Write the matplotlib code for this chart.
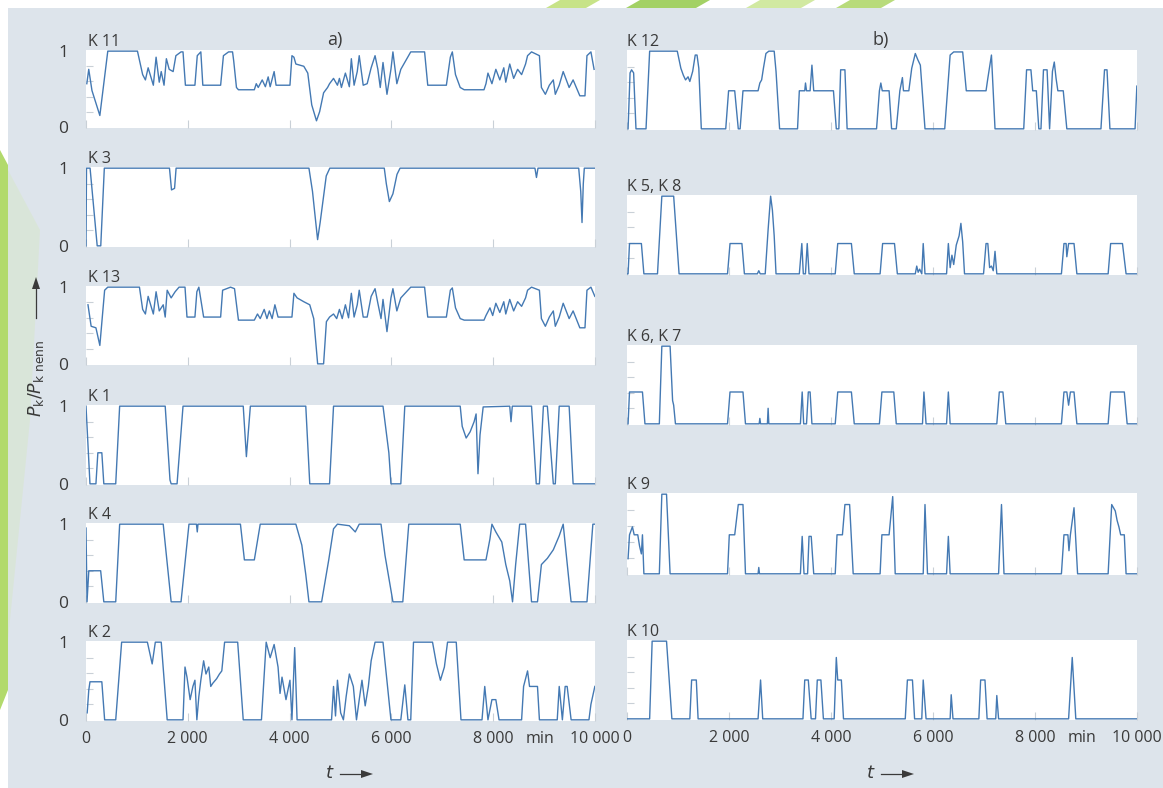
"""
Relative load P_k/P_k nenn of the compressors K1..K13 over 10 000 min.
Panel a) base-load machines, panel b) peak-load machines.
"""
import matplotlib
matplotlib.use("Agg")
import matplotlib.pyplot as plt
from matplotlib.patches import Polygon, Rectangle

# ── Data (t in min, value = P_k / P_k nenn) ──
K11 = [(16, .57), (54, .76), (117, .48), (272, .15), (428, 1), (1011, 1), (1113, .69), (1167, .62),
       (1221, .78), (1323, .55), (1377, .92), (1439, .59), (1478, .73), (1533, .55), (1579, .90),
       (1634, .76), (1712, .73), (1766, .94), (1867, .99), (1906, .99), (1953, .55), (2140, .55),
       (2186, .94), (2256, .99), (2295, .55), (2645, .55), (2700, .94), (2801, .99), (2879, .99),
       (2902, .87), (2956, .52), (2995, .49), (3307, .49), (3345, .57), (3384, .52), (3462, .62),
       (3524, .53), (3579, .66), (3618, .53), (3696, .73), (3734, .55), (4007, .55), (4046, .94),
       (4085, .92), (4123, .83), (4279, .80), (4357, .71), (4435, .29), (4528, .08), (4590, .20),
       (4668, .45), (4746, .52), (4785, .57), (4863, .64), (4940, .55), (4979, .64), (5018, .52),
       (5096, .71), (5174, .53), (5213, .90), (5267, .55), (5329, .73), (5368, .94), (5446, .55),
       (5524, .57), (5602, .78), (5679, .94), (5734, .76), (5781, .52), (5835, .85), (5913, .43),
       (5991, .76), (6030, .99), (6107, .57), (6185, .76), (6380, .99), (6652, .99), (6714, .55),
       (7080, .55), (7158, .92), (7197, .99), (7259, .69), (7352, .52), (7430, .49), (7819, .49),
       (7858, .57), (7897, .71), (7975, .57), (8052, .76), (8130, .62), (8208, .78), (8247, .59),
       (8325, .83), (8402, .64), (8480, .76), (8558, .69), (8636, .83), (8675, .94), (8753, .99),
       (8908, .94), (8947, .52), (9025, .43), (9103, .55), (9181, .62), (9220, .43), (9297, .55),
       (9375, .73), (9492, .52), (9570, .62), (9702, .41), (9803, .41), (9842, .94), (9920, .99),
       (9982, .76)]

K3 = [(0, 0), (10, 1), (80, 1), (220, 0), (290, 0), (360, 1), (1640, 1), (1680, .72), (1740, .74),
      (1770, 1), (4380, 1), (4450, .70), (4490, .45), (4550, .08), (4600, .30), (4650, .55),
      (4720, .90), (4790, 1), (5860, 1), (5900, .80), (5960, .57), (6030, .67), (6110, .92),
      (6170, 1), (8820, 1), (8850, .88), (8880, 1), (9680, 1), (9720, .70), (9745, .30),
      (9770, .80), (9790, 1), (10000, 1)]

K13 = [(39, .77), (101, .49), (195, .47), (272, .24), (366, .96), (428, 1), (1050, 1), (1113, .71),
       (1167, .65), (1221, .88), (1323, .65), (1377, .94), (1439, .69), (1517, .77), (1556, .61),
       (1595, .96), (1673, .86), (1751, .94), (1828, 1), (1945, 1), (1984, .61), (2140, .61),
       (2178, .94), (2217, 1), (2311, .61), (2645, .61), (2684, .96), (2840, 1), (2918, .98),
       (2995, .57), (3307, .57), (3369, .65), (3423, .59), (3501, .71), (3555, .59), (3602, .69),
       (3657, .59), (3711, .77), (3773, .61), (4046, .61), (4085, .92), (4147, .86), (4279, .81),
       (4396, .77), (4474, .59), (4551, 0), (4668, 0), (4723, .55), (4785, .61), (4863, .65),
       (4925, .59), (4979, .71), (5034, .59), (5096, .77), (5158, .60), (5213, .92), (5267, .61),
       (5329, .77), (5368, .96), (5446, .61), (5524, .61), (5602, .88), (5679, .98), (5734, .79),
       (5796, .59), (5835, .84), (5913, .42), (5991, .86), (6030, .98), (6107, .69), (6185, .86),
       (6380, 1), (6652, 1), (6714, .61), (7080, .61), (7158, .96), (7197, .99), (7259, .73),
       (7352, .59), (7430, .57), (7819, .57), (7858, .63), (7936, .73), (7990, .63), (8052, .79),
       (8130, .67), (8208, .81), (8247, .65), (8325, .84), (8402, .69), (8480, .81), (8558, .75),
       (8636, .86), (8675, .96), (8753, 1), (8908, .96), (8947, .59), (9025, .49), (9103, .61),
       (9181, .69), (9220, .49), (9297, .61), (9375, .79), (9492, .59), (9570, .69), (9702, .47),
       (9803, .47), (9842, .96), (9920, 1), (9997, .88)]

K1 = [(0, 1), (78, 0), (195, 0), (233, .40), (311, .40), (350, 0), (584, 0), (661, 1), (1556, 1),
      (1650, .05), (1673, 0), (1789, 0), (1906, 1), (3089, 1), (3151, .35), (3229, 1), (4318, 1),
      (4396, 0), (4785, 0), (4863, 1), (5835, 1), (5950, .40), (5991, 0), (6185, 0), (6263, 1),
      (7352, 1), (7391, .74), (7469, .59), (7547, .67), (7625, .80), (7664, .90), (7701, .13),
      (7741, .63), (7803, .99), (8325, 1), (8350, .80), (8375, 1), (8753, 1), (8846, 0), (8908, 0),
      (8986, 1), (9064, 1), (9181, 0), (9220, 0), (9297, 1), (9492, 1), (9570, 0), (10000, 0)]

K4 = [(0, .95), (20, 0), (55, .40), (288, .40), (350, 0), (584, 0), (661, 1), (1517, 1), (1579, .60),
      (1673, 0), (1867, 0), (2023, 1), (2170, 1), (2186, .90), (2200, 1), (3034, 1), (3112, .54),
      (3307, .54), (3423, 1), (4123, 1), (4240, .73), (4318, .35), (4380, 0), (4629, 0),
      (4769, .54), (4863, .94), (4940, 1), (5174, .98), (5290, .90), (5368, 1), (5796, 1),
      (5874, .60), (6030, 0), (6224, 0), (6341, 1), (7352, 1), (7430, .54), (7858, .54),
      (7936, .81), (7975, 1), (8052, .90), (8169, .77), (8247, .48), (8325, .27), (8380, 0),
      (8441, .48), (8520, 1), (8636, 1), (8753, 0), (8870, 0), (8947, .48), (9064, .56),
      (9181, .67), (9297, .85), (9375, 1), (9530, 0), (9842, 0), (9958, 1), (10000, 1)]

K2 = [(23, .09), (54, .38), (78, .49), (311, .49), (366, 0), (584, 0), (700, 1), (1206, 1),
      (1300, .72), (1362, 1), (1478, 1), (1595, 0), (1906, 0), (1945, .68), (1984, .55),
      (2046, .26), (2100, .43), (2140, .51), (2178, 0), (2217, .30), (2256, .51), (2311, .76),
      (2357, .59), (2412, .68), (2451, .43), (2490, .47), (2567, .53), (2622, .59), (2668, .63),
      (2723, 1), (2980, 1), (3089, 0), (3447, 0), (3540, 1), (3618, .80), (3696, .97), (3773, .68),
      (3812, .34), (3851, .55), (3929, .26), (4007, .51), (4046, 0), (4100, .93), (4147, 0),
      (4824, 0), (4863, .43), (4902, .05), (4940, .51), (5003, .09), (5057, 0), (5111, .30),
      (5174, .59), (5252, .43), (5314, 0), (5368, .26), (5422, .51), (5485, .18), (5547, .43),
      (5602, .76), (5679, 1), (5835, 1), (5991, 0), (6185, 0), (6263, .45), (6325, 0), (6380, 0),
      (6434, 1), (6808, 1), (6885, .72), (6963, .51), (7041, .68), (7103, 1), (7274, 1),
      (7367, 0), (7780, 0), (7834, .43), (7897, 0), (7975, .26), (8052, .26), (8115, 0),
      (8558, 0), (8597, .43), (8675, .63), (8714, .43), (8870, .43), (8908, 0), (9258, 0),
      (9297, .43), (9359, 0), (9414, .43), (9453, .43), (9531, 0), (9881, 0), (9920, .20),
      (9997, .43)]

K12 = [(21, 0), (60, .72), (90, .76), (130, .72), (176, 0), (373, 0), (444, 1), (986, 1),
       (1056, .78), (1105, .69), (1148, .63), (1197, .67), (1232, .61), (1288, .74), (1338, .95),
       (1373, .95), (1408, .78), (1457, 0), (1936, 0), (1992, .49), (2112, .49), (2182, 0),
       (2218, 0), (2274, .49), (2570, .49), (2605, .59), (2640, .63), (2675, .78), (2724, .97),
       (2781, 1), (2886, 1), (2922, .74), (2992, 0), (3344, 0), (3379, .49), (3485, .49),
       (3500, .59), (3520, .49), (3590, .49), (3626, .82), (3661, .49), (4048, .49), (4104, 0),
       (4154, 0), (4189, .76), (4273, .76), (4316, 0), (4893, 0), (4949, .49), (4977, .59),
       (5005, .49), (5139, .49), (5188, 0), (5280, 0), (5350, .49), (5400, .66), (5421, .49),
       (5526, .49), (5583, .78), (5653, .97), (5702, .89), (5752, .82), (5843, 0), (6230, 0),
       (6336, .95), (6406, .99), (6582, .99), (6653, .49), (7040, .49), (7075, .65), (7146, .95),
       (7216, 0), (7779, 0), (7835, .76), (7920, .76), (7955, .49), (8026, .49), (8075, 0),
       (8117, 0), (8166, .76), (8237, .76), (8286, 0), (8342, .74), (8378, .86), (8413, .65),
       (8448, .49), (8554, .49), (8624, 0), (9293, 0), (9363, .76), (9412, .76), (9469, 0),
       (9962, 0), (9997, .55)]

K5_K8 = [(0, 0), (21, 0), (49, .39), (282, .39), (331, 0), (598, 0), (683, 1), (915, 1), (1021, 0),
         (1971, 0), (2020, .39), (2253, .39), (2302, 0), (2556, 0), (2584, .04), (2612, 0),
         (2710, 0), (2767, .57), (2816, 1), (2851, .82), (2886, .49), (2922, 0), (3379, 0),
         (3428, .39), (3457, 0), (3499, 0), (3534, .39), (3569, 0), (4083, 0), (4132, .39),
         (4400, .39), (4456, 0), (4963, 0), (5012, .39), (5245, .39), (5301, 0), (5653, 0),
         (5681, .10), (5709, .02), (5738, .06), (5780, 0), (5808, .39), (5843, 0), (6266, 0),
         (6301, .39), (6336, .08), (6371, .24), (6406, .12), (6456, .37), (6512, .49),
         (6547, .65), (6582, .41), (6618, 0), (6991, 0), (7040, .39), (7075, .39), (7110, .08),
         (7146, .10), (7181, .04), (7216, .29), (7251, 0), (8518, 0), (8568, .39), (8610, .39),
         (8624, .22), (8659, .39), (8765, .39), (8821, 0), (9434, 0), (9483, .39), (9715, .39),
         (9786, 0), (10000, 0)]

K6_K7 = [(21, 0), (49, .41), (303, .41), (352, 0), (634, 0), (683, 1), (845, 1), (894, .30),
         (915, .24), (950, 0), (1971, 0), (2020, .41), (2274, .41), (2323, 0), (2591, 0),
         (2605, .07), (2619, 0), (2753, 0), (2767, .20), (2781, 0), (3400, 0), (3435, .41),
         (3464, 0), (3520, 0), (3555, .41), (3590, .41), (3626, 0), (4083, 0), (4132, .41),
         (4400, .41), (4456, 0), (4949, 0), (4998, .41), (5231, .41), (5280, 0), (5794, 0),
         (5822, .41), (5864, 0), (6266, 0), (6301, .41), (6336, 0), (7251, 0), (7300, .41),
         (7371, .41), (7427, 0), (8518, 0), (8568, .41), (8624, .41), (8659, .24), (8694, .41),
         (8765, .41), (8821, 0), (9434, 0), (9483, .41), (9751, .41), (9807, 0), (10000, 0)]

K9 = [(21, .19), (49, .49), (106, .59), (141, .49), (211, .49), (246, .35), (282, .25), (303, .49),
      (331, 0), (634, 0), (683, 1), (775, 1), (845, 0), (1971, 0), (2006, .49), (2112, .49),
      (2182, .87), (2274, .87), (2323, 0), (2570, 0), (2584, .08), (2598, 0), (3400, 0),
      (3435, .47), (3471, 0), (3541, 0), (3569, .47), (3612, .47), (3661, 0), (4083, 0),
      (4118, .49), (4224, .49), (4273, .87), (4365, .87), (4435, 0), (4963, 0), (4998, .49),
      (5139, .49), (5210, .97), (5259, 0), (5808, 0), (5843, .87), (5892, 0), (6266, 0),
      (6301, .47), (6336, 0), (7286, 0), (7343, .87), (7392, 0), (8518, 0), (8568, .49),
      (8645, .49), (8666, .29), (8694, .49), (8765, .83), (8835, 0), (9434, 0), (9504, .87),
      (9574, .79), (9610, .67), (9645, .59), (9680, .49), (9751, .49), (9786, 0), (10000, 0)]

K10 = [(0, 0), (444, 0), (493, 1), (775, 1), (880, 0), (1232, 0), (1267, .50), (1359, .50),
       (1394, 0), (2570, 0), (2619, .50), (2661, 0), (3450, 0), (3485, .50), (3555, .50),
       (3611, 0), (3696, 0), (3731, .50), (3802, .50), (3851, 0), (4062, 0), (4104, .79),
       (4132, .50), (4203, .50), (4245, 0), (5456, 0), (5498, .50), (5597, .50), (5639, 0),
       (5780, 0), (5808, .50), (5864, 0), (6336, 0), (6357, .31), (6392, 0), (6899, 0),
       (6934, .50), (7019, .50), (7061, 0), (7230, 0), (7251, .30), (7286, 0), (8659, 0),
       (8730, .79), (8800, 0), (10000, 0)]

left_names = ["K 11", "K 3", "K 13", "K 1", "K 4", "K 2"]
left_series = [K11, K3, K13, K1, K4, K2]
right_names = ["K 12", "K 5, K 8", "K 6, K 7", "K 9", "K 10"]
right_series = [K12, K5_K8, K6_K7, K9, K10]

x_ticks = [0, 2000, 4000, 6000, 8000, 10000]
x_ticklabels = ["0", "2 000", "4 000", "6 000", "8 000", "10 000"]

# ── Layout in pixels of the 1163 x 788 scan ──
W, H = 1163, 788
left_x = (86, 595)
left_y = [(50, 128), (167, 247), (286, 365), (405, 485), (523, 603), (641, 721)]
right_x = (627, 1137)
right_y = [(50, 130), (195, 275), (345, 425), (493, 575), (640, 720)]

BG = "#dde4eb"
LINE = "#4479b3"
TXT = "#3a3a3a"
TICK = "#c9d0d7"

plt.rcParams["font.family"] = ["Open Sans", "DejaVu Sans"]


def fx(px):
    return px / W


def fy(py):
    return 1 - py / H


def make_axes(fig, xr, yr):
    ax = fig.add_axes([fx(xr[0]), fy(yr[1]), (xr[1] - xr[0]) / W, (yr[1] - yr[0]) / H])
    ax.set_facecolor("white")
    for s in ax.spines.values():
        s.set_visible(False)
    ax.set_xlim(0, 10000)
    ax.set_ylim(-0.015, 1.015)
    ax.set_xticks(x_ticks)
    ax.set_yticks([0.2, 0.4, 0.6, 0.8], minor=True)
    ax.tick_params(axis="both", which="both", direction="in", color=TICK,
                   length=6, width=0.8, labelcolor=TXT)
    ax.tick_params(axis="y", which="minor", length=5)
    ax.tick_params(axis="x", labelbottom=False, pad=7, labelsize=11.5)
    return ax


fig = plt.figure(figsize=(W / 100, H / 100), dpi=100, facecolor=BG)

# decorative background of the scanned page
fig.patches.append(Rectangle((0, fy(8)), 1, 1 - fy(8), transform=fig.transFigure,
                             facecolor="white", edgecolor="none", zorder=-3))
fig.patches.append(Rectangle((0, 0), fx(8), 1, transform=fig.transFigure,
                             facecolor="white", edgecolor="none", zorder=-3))
for x0, w, c in [(560, 40, "#b9dc6a"), (640, 70, "#8cc63f"), (760, 55, "#c6e48a"), (850, 45, "#a6d35a")]:
    fig.patches.append(Polygon([(fx(x0), fy(0)), (fx(x0 + w), fy(0)), (fx(x0 + w - 14), fy(8)),
                                (fx(x0 - 14), fy(8))], closed=True, transform=fig.transFigure,
                               facecolor=c, edgecolor="none", alpha=0.8, zorder=-2))
fig.patches.append(Polygon([(0, fy(150)), (fx(8), fy(165)), (fx(8), fy(690)), (0, fy(710))],
                           closed=True, transform=fig.transFigure, facecolor="#a5d452",
                           edgecolor="none", alpha=0.85, zorder=-2))
fig.patches.append(Polygon([(fx(8), fy(170)), (fx(40), fy(230)), (fx(30), fy(420)), (fx(8), fy(640))],
                           closed=True, transform=fig.transFigure, facecolor="#d3e8b0",
                           edgecolor="none", alpha=0.3, zorder=-2))

# ── a) left column ──
left_axes = []
for name, ser, yr in zip(left_names, left_series, left_y):
    ax = make_axes(fig, left_x, yr)
    t = [p[0] for p in ser]
    v = [p[1] for p in ser]
    ax.plot(t, v, color=LINE, lw=1.0, solid_joinstyle="round")
    ax.set_yticks([0, 1])
    ax.set_yticklabels(["0", "1"])
    ax.tick_params(axis="y", which="major", pad=13, labelsize=12.5, length=0)
    ax.text(0.004, 1.0, name, transform=ax.transAxes, ha="left", va="bottom",
            fontsize=11.5, color=TXT)
    left_axes.append(ax)

# ── b) right column ──
right_axes = []
for name, ser, yr in zip(right_names, right_series, right_y):
    ax = make_axes(fig, right_x, yr)
    t = [p[0] for p in ser]
    v = [p[1] for p in ser]
    ax.plot(t, v, color=LINE, lw=1.0, solid_joinstyle="round")
    ax.set_yticks([])
    ax.text(0.0, 1.0, name, transform=ax.transAxes, ha="left", va="bottom",
            fontsize=11.5, color=TXT)
    right_axes.append(ax)

for ax in (left_axes[-1], right_axes[-1]):
    ax.tick_params(axis="x", labelbottom=True)
    ax.set_xticklabels(x_ticklabels)
    ax.text(8920, -0.12, "min", transform=ax.get_xaxis_transform(), ha="center",
            va="top", fontsize=11.5, color=TXT)

# panel letters
fig.text(fx(335), fy(40), "a)", fontsize=13, color=TXT, ha="center", va="center")
fig.text(fx(881), fy(40), "b)", fontsize=13, color=TXT, ha="center", va="center")

# axis labels with arrows
fig.text(fx(36), fy(378), r"$P_\mathrm{k}/P_\mathrm{k\ nenn}$", rotation=90, fontsize=12.5,
         color=TXT, ha="center", va="center")
fig.add_artist(plt.Line2D([fx(36), fx(36)], [fy(318), fy(288)], color=TXT, lw=0.9))
fig.patches.append(Polygon([(fx(32), fy(289)), (fx(40), fy(289)), (fx(36), fy(277))], closed=True,
                           transform=fig.transFigure, facecolor=TXT, edgecolor="none"))
for xc in (330, 871):
    fig.text(fx(xc), fy(773), r"$t$", fontsize=13, color=TXT, ha="center", va="center")
    fig.add_artist(plt.Line2D([fx(xc + 10), fx(xc + 32)], [fy(774), fy(774)], color=TXT, lw=0.9))
    fig.patches.append(Polygon([(fx(xc + 31), fy(770)), (fx(xc + 31), fy(778)), (fx(xc + 43), fy(774))],
                               closed=True, transform=fig.transFigure, facecolor=TXT,
                               edgecolor="none"))

fig.savefig("out.png", dpi=100, facecolor=BG)
print("Saved: out.png")
